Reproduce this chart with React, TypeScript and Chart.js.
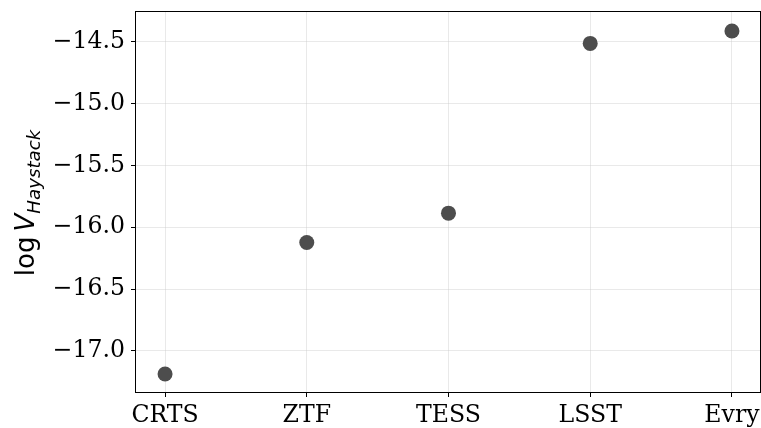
import React, { useEffect, useRef } from "react";
import { Chart, registerables } from "chart.js";

Chart.register(...registerables);

const categories = ["CRTS", "ZTF", "TESS", "LSST", "Evry"];
const logV = [-17.186, -16.123, -15.885, -14.512, -14.412];
const yTicks = [-17.0, -16.5, -16.0, -15.5, -15.0, -14.5];

const W = 761;
const H = 428;
const TICK_FONT = "DejaVu Serif";
const TICK_SIZE = 23.6;

const fmt = (v: number) => (v < 0 ? "\u2212" : "") + Math.abs(v).toFixed(1);

const zeroPad = (s: any) => {
  s.paddingLeft = 0;
  s.paddingRight = 0;
  s.paddingTop = 0;
  s.paddingBottom = 0;
};

const framePlugin = {
  id: "frame",
  afterDraw(chart: any) {
    const { ctx, chartArea } = chart;
    const { left, right, top, bottom } = chartArea;
    ctx.save();
    ctx.strokeStyle = "#000";
    ctx.lineWidth = 1;
    ctx.beginPath();
    ctx.moveTo(left + 0.5, top);
    ctx.lineTo(left + 0.5, bottom);
    ctx.moveTo(left, bottom - 0.5);
    ctx.lineTo(right, bottom - 0.5);
    ctx.moveTo(left, top + 0.5);
    ctx.lineTo(right, top + 0.5);
    ctx.moveTo(right - 0.5, top);
    ctx.lineTo(right - 0.5, bottom);
    ctx.stroke();

    // y-axis title: log V_{Haystack}
    const parts = [
      { t: "log\u2009", font: "26px 'DejaVu Sans'", dy: 0 },
      { t: "V", font: "italic 26px 'DejaVu Sans'", dy: 0 },
      { t: "Haystack", font: "italic 18.2px 'DejaVu Sans'", dy: 6 },
    ];
    let total = 0;
    const widths = parts.map((p) => {
      ctx.font = p.font;
      const w = ctx.measureText(p.t).width;
      total += w;
      return w;
    });
    const cy = (top + bottom) / 2 + 1;
    ctx.translate(34, cy);
    ctx.rotate(-Math.PI / 2);
    ctx.fillStyle = "#000";
    ctx.textBaseline = "alphabetic";
    ctx.textAlign = "left";
    let x = -total / 2;
    parts.forEach((p, i) => {
      ctx.font = p.font;
      ctx.fillText(p.t, x, p.dy);
      x += widths[i];
    });
    ctx.restore();
  },
};

export default function App() {
  const ref = useRef<HTMLCanvasElement>(null);
  useEffect(() => {
    if (!ref.current) return;
    const chart = new Chart(ref.current, {
      type: "scatter",
      data: {
        datasets: [
          {
            data: logV.map((v, i) => ({ x: i, y: v })),
            backgroundColor: "#4d4d4d",
            borderWidth: 0,
            pointRadius: 7.5,
            pointHoverRadius: 7.5,
          },
        ],
      },
      options: {
        animation: false,
        responsive: false,
        devicePixelRatio: 1,
        events: [],
        layout: { autoPadding: false, padding: { top: 11, right: 0, left: 0, bottom: 0 } },
        plugins: {
          legend: { display: false },
          tooltip: { enabled: false },
          title: { display: false },
        },
        scales: {
          x: {
            type: "linear",
            min: -0.212,
            max: 4.205,
            z: 1,
            afterFit: (s: any) => {
              s.height = 35;
              zeroPad(s);
            },
            border: { display: false },
            grid: {
              color: "rgba(200,200,200,0.4)",
              lineWidth: 1,
              tickLength: 4,
              tickColor: "#000",
            },
            ticks: {
              stepSize: 1,
              includeBounds: false,
              autoSkip: false,
              maxRotation: 0,
              padding: 5,
              color: "#000",
              font: { family: TICK_FONT, size: TICK_SIZE },
              callback: (v: any) => {
                const i = Math.round(Number(v));
                return Math.abs(Number(v) - i) < 1e-6 ? categories[i] ?? "" : "";
              },
            },
          },
          y: {
            type: "linear",
            min: -17.34,
            max: -14.25,
            z: 1,
            afterFit: (s: any) => {
              s.width = 135;
              zeroPad(s);
            },
            afterBuildTicks: (s: any) => {
              s.ticks = yTicks.map((v) => ({ value: v }));
            },
            border: { display: false },
            grid: {
              color: "rgba(200,200,200,0.4)",
              lineWidth: 1,
              tickLength: 4,
              tickColor: "#000",
            },
            ticks: {
              padding: 6,
              color: "#000",
              font: { family: TICK_FONT, size: TICK_SIZE },
              callback: (v: any) => fmt(Number(v)),
            },
          },
        },
      },
      plugins: [framePlugin],
    });
    return () => chart.destroy();
  }, []);
  return (
    <div style={{ position: "absolute", left: 0, top: 0, width: W, height: H, background: "#fff" }}>
      <canvas ref={ref} width={W} height={H} style={{ display: "block", width: W, height: H }} />
    </div>
  );
}
